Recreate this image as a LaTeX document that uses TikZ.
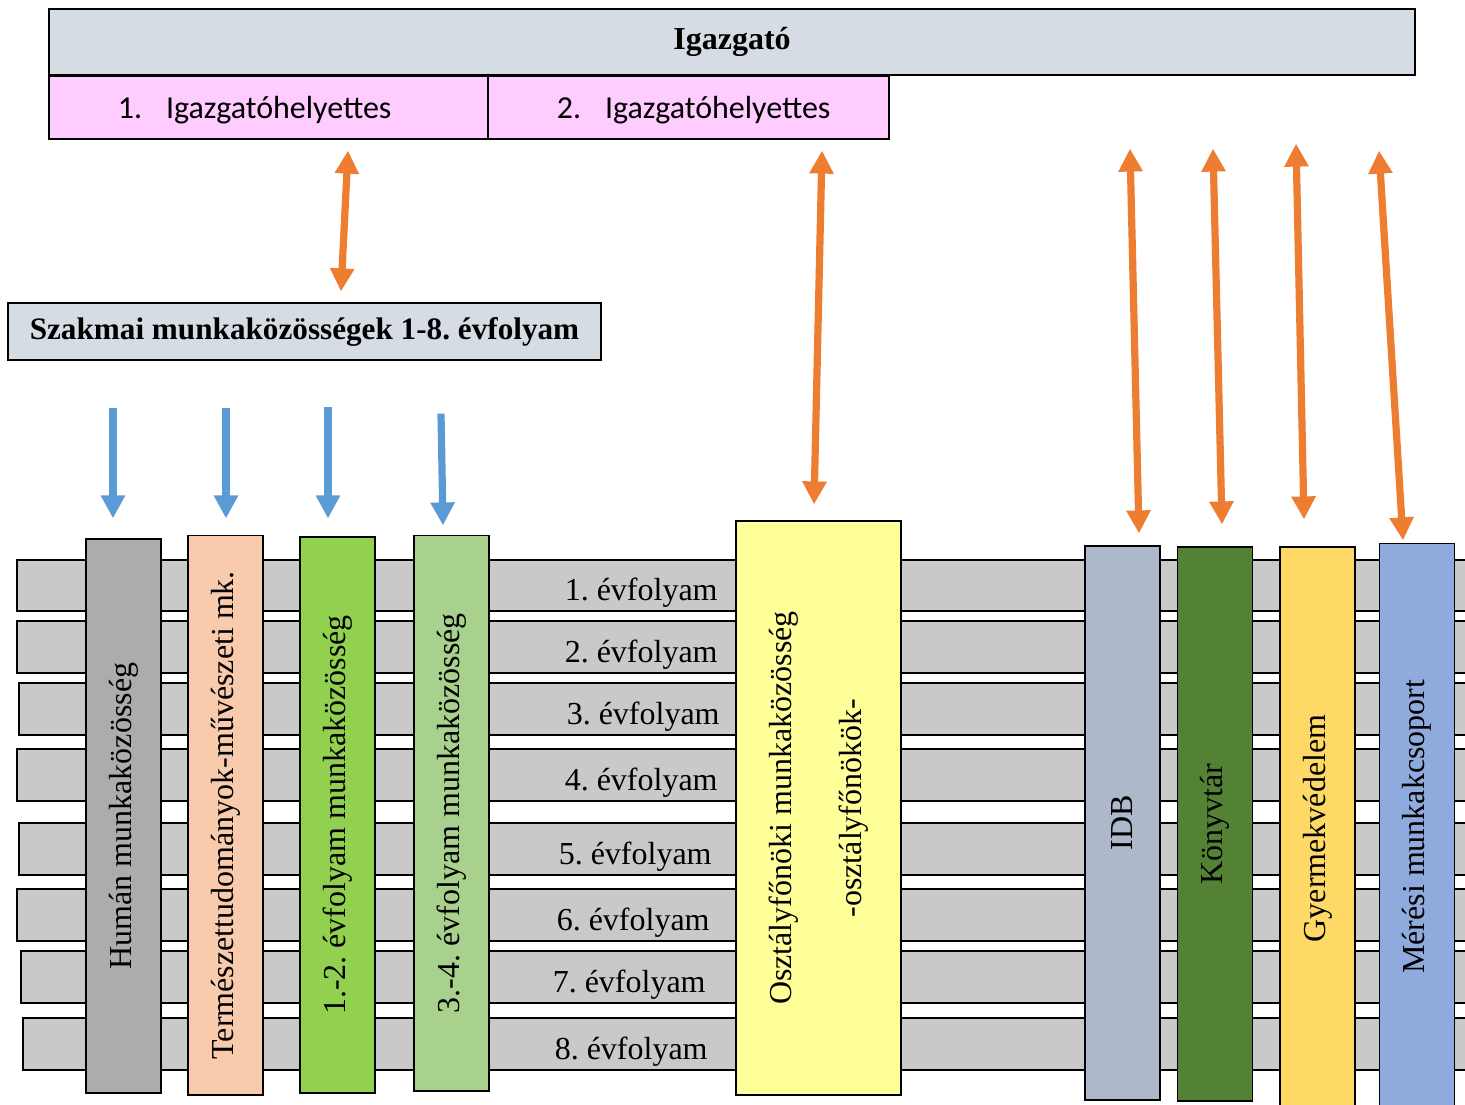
\documentclass[tikz,border=0pt]{standalone}
\usepackage{fontspec}
\setmainfont{Liberation Serif}
\newfontfamily\calibri{Carlito}
\usepackage{tikz}
\usetikzlibrary{arrows.meta}
\usetikzlibrary{calc}
\definecolor{headc}{HTML}{D6DCE4}
\definecolor{depc}{HTML}{FFCCFF}
\definecolor{barc}{HTML}{C9C9C9}
\definecolor{humc}{HTML}{AEABAB}
\definecolor{termc}{HTML}{F8CBAD}
\definecolor{ev12c}{HTML}{92D050}
\definecolor{ev34c}{HTML}{A9D18E}
\definecolor{ofoc}{HTML}{FFFF99}
\definecolor{idbc}{HTML}{ADB9CA}
\definecolor{konyvc}{HTML}{548235}
\definecolor{gyvc}{HTML}{FFD966}
\definecolor{merc}{HTML}{8FAADC}
\definecolor{orc}{HTML}{ED7D31}
\definecolor{bluec}{HTML}{5B9BD5}
\newcommand{\sz}{\fontsize{16}{19}\selectfont}
\frenchspacing

\begin{document}
\begin{tikzpicture}[x=0.5pt,y=-0.5pt,
  box/.style={draw=black,line width=0.6pt,inner sep=0pt},
  col/.style={box,rotate=90,minimum height=37.5pt,font=\sz},
  bar/.style={draw=black,line width=0.6pt,fill=barc},
  oarr/.style={draw=orc,line width=3.6pt,>={Triangle[width=11.5pt,length=11.5pt]},<->},
  barr/.style={draw=bluec,line width=3.6pt,>={Triangle[width=11.5pt,length=11.5pt]},->}]
\clip (0,0) rectangle (1465,1104);

\node[box,fill=headc,minimum width=683pt,minimum height=33pt,font=\bfseries\sz] (igz) at (732,42) {Igazgató};
\node[box,fill=depc,minimum width=219.5pt,minimum height=31.5pt] (dep1) at (268.5,107.5) {};
\node[box,fill=depc,minimum width=200.5pt,minimum height=31.5pt] (dep2) at (688.5,107.5) {};
\node[anchor=west,inner sep=0pt,font=\calibri\sz] (dep1t) at ($(dep1.west)+(69,3)$) {1.\hspace{12pt}Igazgatóhelyettes};
\node[anchor=west,inner sep=0pt,font=\calibri\sz] (dep2t) at ($(dep2.west)+(69,3)$) {2.\hspace{12pt}Igazgatóhelyettes};
\node[box,fill=headc,minimum width=296.5pt,minimum height=28.5pt,font=\bfseries\fontsize{15.6}{19}\selectfont] (szak) at (304.5,331.5) {Szakmai munkaközösségek 1-8. évfolyam};

\foreach \i/\t/\b/\l/\r in {1/560/611/17/718, 2/621/673/17/718, 3/683/735/19/720, 4/749/801/17/718, 5/823/875/19/712, 6/889/941/17/710, 7/951/1003/21/706, 8/1018/1070/23/708}
{
  \draw[bar] (\l,\t) rectangle (1480,\b);
  \node[anchor=base east,inner sep=0pt,font=\sz] (ev\i) at (\r,\b-11) {\i. évfolyam};
}

\node[col,fill=humc,minimum width=277pt] (hum) at (123.5,816) {Humán munkaközösség};
\node[col,fill=termc,minimum width=279.75pt] (term) at (225.5,815.25) {Természettudományok-művészeti mk.};
\node[col,fill=ev12c,minimum width=278pt] (ev12) at (337.5,815) {1.-2. évfolyam munkaközösség};
\node[col,fill=ev34c,minimum width=277.75pt] (ev34) at (451.5,813.25) {3.-4. évfolyam munkaközösség};
\node[col,fill=ofoc,minimum width=287pt,minimum height=82.5pt,align=center] (ofo) at (818.5,808) {Osztályfőnöki munkaközösség\\[16pt]-osztályfőnökök-};
\node[col,fill=idbc,minimum width=277pt] (idb) at (1122.5,823) {IDB};
\node[col,fill=konyvc,minimum width=277pt] (konyv) at (1215,824) {Könyvtár};
\node[col,fill=gyvc,minimum width=281.5pt] (gyv) at (1317.5,828.5) {Gyermekvédelem};
\node[col,fill=merc,minimum width=283.25pt] (mer) at (1417,826.75) {Mérési munkakcsoport};

\draw[oarr] ($(dep1.south)+(79.5,11)$) -- ($(szak.north)+(36.5,-11)$);
\draw[oarr] ($(dep2.south)+(133.5,11)$) -- ($(ofo.east)+(-4.5,-16)$);
\draw[oarr] ($(igz.south)+(398,73)$) -- ($(idb.east)+(16.5,-12)$);
\draw[oarr] ($(igz.south)+(481,73)$) -- ($(konyv.east)+(7,-22)$);
\draw[oarr] ($(igz.south)+(564,68)$) -- ($(gyv.east)+(-13.5,-27)$);
\draw[oarr] ($(igz.south)+(647,75)$) -- ($(mer.east)+(-14,-2.5)$);

\draw[barr] ($(szak.south)+(-191.5,47)$) -- ($(hum.east)+(-10.5,-20)$);
\draw[barr] ($(szak.south)+(-78.5,47)$) -- ($(term.east)+(0.5,-16.5)$);
\draw[barr] ($(szak.south)+(23.5,46)$) -- ($(ev12.east)+(-9.5,-18)$);
\draw[barr] ($(szak.south)+(136.5,53)$) -- ($(ev34.east)+(-8.5,-9.5)$);
\end{tikzpicture}
\end{document}
